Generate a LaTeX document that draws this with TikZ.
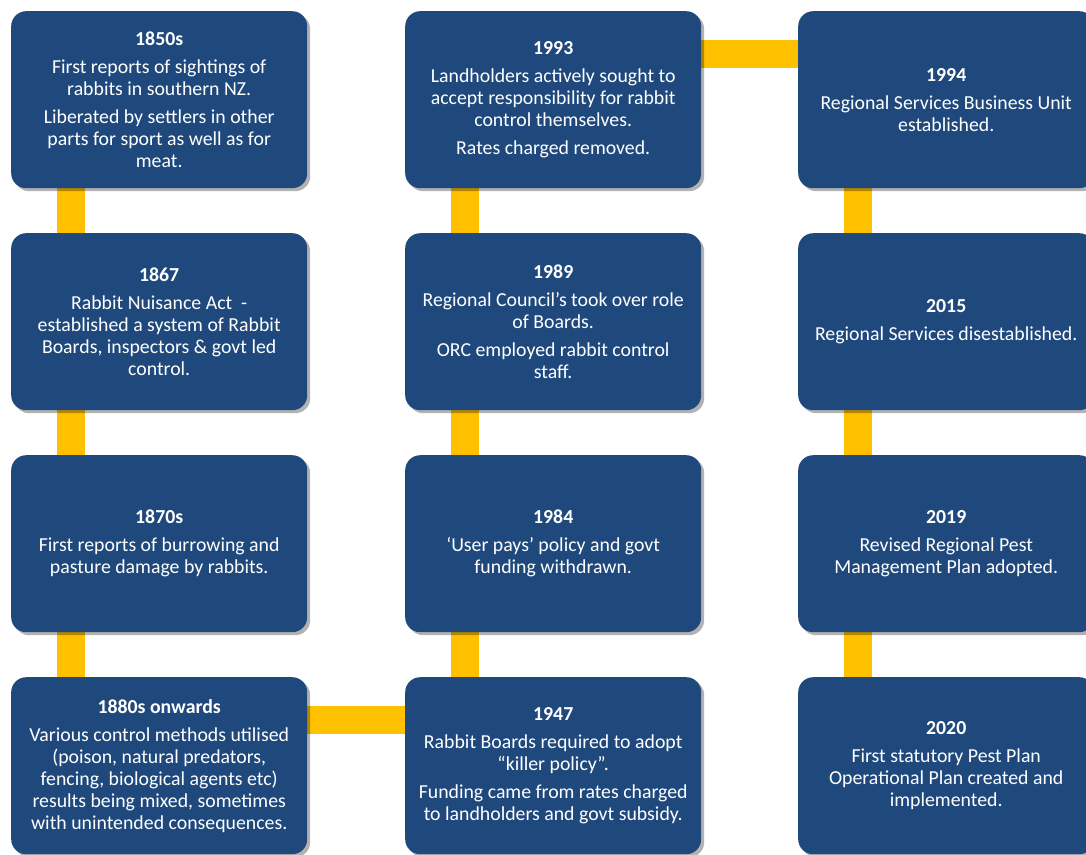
\documentclass[tikz,border=0pt]{standalone}
\usepackage{fontspec}
\setmainfont{Carlito}
\usepackage{xcolor}
\usepackage{tikz}
\usetikzlibrary{shadows,backgrounds}
\definecolor{navy}{HTML}{1F497D}
\definecolor{gold}{HTML}{FFC000}
\tikzset{
  card/.style={rectangle, rounded corners=15pt, fill=navy, text=white, anchor=north west,
    minimum width=296pt, minimum height=177pt, align=center, inner sep=4pt,
    font=\fontsize{19.8}{22}\selectfont,
    drop shadow={shadow xshift=3pt, shadow yshift=-3pt, fill=black, opacity=0.3}},
  link/.style={draw=gold, line width=28pt,
    preaction={draw=black, draw opacity=0.22, transform canvas={shift={(3pt,-3pt)}}}},
}

\begin{document}
\begin{tikzpicture}[x=1pt,y=1pt]
  \useasboundingbox (0,0) rectangle (1086,-854);
  % first column
  \node[card] (y1850) at (11,-11) {\textbf{1850s}\\[6pt] First reports of sightings of\\ rabbits in southern NZ.\\[6pt] Liberated by settlers in other\\ parts for sport as well as for\\ meat.};
  \node[card] (y1867) at (11,-233) {\textbf{1867}\\[6pt] Rabbit Nuisance Act~ -\\ established a system of Rabbit\\ Boards, inspectors \& govt led\\ control.};
  \node[card] (y1870) at (11,-455) {\textbf{1870s}\\[6pt] First reports of burrowing and\\ pasture damage by rabbits.};
  \node[card] (y1880) at (11,-677) {\textbf{1880s onwards}\\[6pt] Various control methods utilised\\ (poison, natural predators,\\ fencing, biological agents etc)\\ results being mixed, sometimes\\ with unintended consequences.};
  % second column
  \node[card] (y1947) at (405,-677) {\textbf{1947}\\[6pt] Rabbit Boards required to adopt\\ “killer policy”.\\[6pt] Funding came from rates charged\\ to landholders and govt subsidy.};
  \node[card] (y1984) at (405,-455) {\textbf{1984}\\[6pt] ‘User pays’ policy and govt\\ funding withdrawn.};
  \node[card] (y1989) at (405,-233) {\textbf{1989}\\[6pt] Regional Council’s took over role\\ of Boards.\\[6pt] ORC employed rabbit control\\ staff.};
  \node[card] (y1993) at (405,-11) {\textbf{1993}\\[6pt] Landholders actively sought to\\ accept responsibility for rabbit\\ control themselves.\\[6pt] Rates charged removed.};
  % third column
  \node[card] (y1994) at (798,-11) {\textbf{1994}\\[6pt] Regional Services Business Unit\\ established.};
  \node[card] (y2015) at (798,-233) {\textbf{2015}\\[6pt] Regional Services disestablished.};
  \node[card] (y2019) at (798,-455) {\textbf{2019}\\[6pt] Revised Regional Pest\\ Management Plan adopted.};
  \node[card] (y2020) at (798,-677) {\textbf{2020}\\[6pt] First statutory Pest Plan\\ Operational Plan created and\\ implemented.};

  \begin{scope}[on background layer]
    \draw[link] ([xshift=60pt]y1850.south west) -- ([xshift=60pt]y1867.north west);
    \draw[link] ([xshift=60pt]y1867.south west) -- ([xshift=60pt]y1870.north west);
    \draw[link] ([xshift=60pt]y1870.south west) -- ([xshift=60pt]y1880.north west);
    \draw[link] ([yshift=-43pt]y1880.north east) -- ([yshift=-43pt]y1947.north west);
    \draw[link] ([xshift=60pt]y1947.north west) -- ([xshift=60pt]y1984.south west);
    \draw[link] ([xshift=60pt]y1984.north west) -- ([xshift=60pt]y1989.south west);
    \draw[link] ([xshift=60pt]y1989.north west) -- ([xshift=60pt]y1993.south west);
    \draw[link] ([yshift=-43pt]y1993.north east) -- ([yshift=-43pt]y1994.north west);
    \draw[link] ([xshift=60pt]y1994.south west) -- ([xshift=60pt]y2015.north west);
    \draw[link] ([xshift=60pt]y2015.south west) -- ([xshift=60pt]y2019.north west);
    \draw[link] ([xshift=60pt]y2019.south west) -- ([xshift=60pt]y2020.north west);
  \end{scope}
\end{tikzpicture}
\end{document}
